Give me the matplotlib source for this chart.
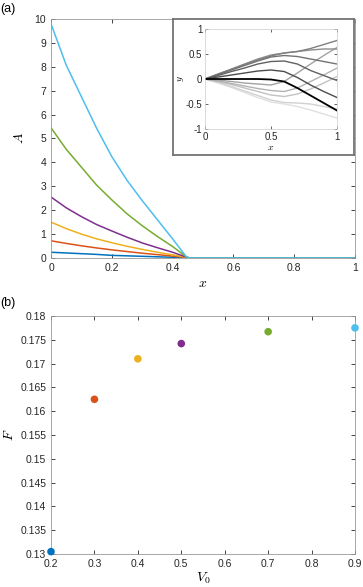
import matplotlib.pyplot as plt

plt.rcParams['font.family'] = ['Liberation Sans', 'DejaVu Sans']
plt.rcParams['mathtext.fontset'] = 'cm'

# panel (a): amplitude A(x) for each V0
x_a = [0, 0.05, 0.1, 0.15, 0.2, 0.25, 0.3, 0.35, 0.4, 0.445, 0.455, 1.0]
A_02 = [0.24, 0.21, 0.18, 0.15, 0.11, 0.09, 0.07, 0.05, 0.03, 0.01, 0, 0]
A_03 = [0.72, 0.61, 0.51, 0.42, 0.34, 0.27, 0.20, 0.14, 0.08, 0.02, 0, 0]
A_04 = [1.50, 1.23, 1.00, 0.80, 0.64, 0.49, 0.36, 0.24, 0.13, 0.03, 0, 0]
A_05 = [2.55, 2.10, 1.73, 1.40, 1.13, 0.87, 0.63, 0.43, 0.24, 0.04, 0, 0]
A_07 = [5.45, 4.55, 3.80, 3.05, 2.43, 1.85, 1.35, 0.90, 0.48, 0.05, 0, 0]
A_09 = [9.80, 8.07, 6.75, 5.43, 4.24, 3.25, 2.40, 1.60, 0.80, 0.05, 0, 0]

# inset: snapshots y(x)
x_in = [0, 0.1, 0.2, 0.3, 0.4, 0.5, 0.6, 0.7, 0.8, 0.9, 1.0]
snaps = [
    [0, -0.08, -0.17, -0.27, -0.37, -0.46, -0.50, -0.55, -0.62, -0.70, -0.78],
    [0, -0.07, -0.15, -0.24, -0.33, -0.42, -0.47, -0.48, -0.50, -0.55, -0.60],
    [0, -0.05, -0.11, -0.18, -0.25, -0.32, -0.35, -0.30, -0.20, -0.08, 0.05],
    [0, -0.04, -0.09, -0.14, -0.19, -0.23, -0.25, -0.18, -0.05, 0.08, 0.22],
    [0, -0.02, -0.05, -0.08, -0.10, -0.12, -0.05, 0.12, 0.30, 0.47, 0.63],
    [0, 0.10, 0.20, 0.30, 0.40, 0.48, 0.52, 0.55, 0.58, 0.60, 0.60],
    [0, 0.10, 0.19, 0.29, 0.38, 0.46, 0.52, 0.55, 0.61, 0.69, 0.77],
    [0, 0.09, 0.18, 0.27, 0.36, 0.44, 0.47, 0.45, 0.40, 0.35, 0.30],
    [0, 0.07, 0.15, 0.22, 0.30, 0.35, 0.36, 0.30, 0.17, 0.07, -0.03],
    [0, 0.04, 0.08, 0.12, 0.16, 0.18, 0.15, 0.03, -0.12, -0.25, -0.37],
    [0, 0, 0, 0, 0, -0.01, -0.05, -0.18, -0.33, -0.48, -0.63],
]
snap_grey = [0.88, 0.82, 0.76, 0.70, 0.64, 0.55, 0.50, 0.45, 0.38, 0.30, 0.0]

# panel (b): F vs V0
V0 = [0.2, 0.3, 0.4, 0.5, 0.7, 0.9]
F = [0.1305, 0.1625, 0.1710, 0.1742, 0.1767, 0.1775]
colors = ['#0072BD', '#D95319', '#EDB120', '#7E2F8E', '#77AC30', '#4DBEEE']

tick_kw = dict(direction='in', length=3, width=0.6, labelsize=7.5, colors='0.15',
               top=True, right=True)
spine_c = '0.6'

fig = plt.figure(figsize=(3.63, 5.87), dpi=100)

# ---- (a)
ax = fig.add_axes([0.1405, 0.5605, 0.8375, 0.4072])
for ys, c in zip([A_02, A_03, A_04, A_05, A_07, A_09], colors):
    ax.plot(x_a, ys, color=c, lw=1.1)
ax.set_xlim(0, 1)
ax.set_ylim(0, 10)
ax.set_xticks([0, 0.2, 0.4, 0.6, 0.8, 1])
ax.set_xticklabels(['0', '0.2', '0.4', '0.6', '0.8', '1'])
ax.set_yticks(range(0, 11))
ax.tick_params(**tick_kw)
for s in ax.spines.values():
    s.set_color(spine_c)
    s.set_linewidth(0.6)
ax.set_xlabel(r'$x$', fontsize=10, labelpad=2)
ax.set_ylabel(r'$A$', fontsize=10, labelpad=6)

# inset frame
box = fig.add_axes([0.4766, 0.7359, 0.4986, 0.2317])
box.set_xticks([])
box.set_yticks([])
for s in box.spines.values():
    s.set_color('0.45')
    s.set_linewidth(1.3)

ins = fig.add_axes([0.5647, 0.7802, 0.3636, 0.1704])
for ys, g in zip(snaps, snap_grey):
    ins.plot(x_in, ys, color=str(g), lw=1.0 if g > 0 else 1.3)
ins.set_xlim(0, 1)
ins.set_ylim(-1, 1)
ins.set_xticks([0, 0.5, 1])
ins.set_xticklabels(['0', '0.5', '1'])
ins.set_yticks([-1, -0.5, 0, 0.5, 1])
ins.set_yticklabels(['-1', '-0.5', '0', '0.5', '1'])
ins.tick_params(direction='in', length=2, width=0.5, labelsize=7, colors='0.15',
                top=True, right=True, pad=2)
for s in ins.spines.values():
    s.set_color('0.8')
    s.set_linewidth(0.5)
ins.set_xlabel(r'$x$', fontsize=7, labelpad=0)
ins.set_ylabel(r'$y$', fontsize=7, labelpad=0)

# ---- (b)
bx = fig.add_axes([0.1405, 0.0562, 0.8375, 0.4055])
bx.scatter(V0, F, s=30, c=colors, clip_on=False, zorder=3, linewidths=0)
bx.set_xlim(0.2, 0.9)
bx.set_ylim(0.13, 0.18)
bx.set_xticks([0.2, 0.3, 0.4, 0.5, 0.6, 0.7, 0.8, 0.9])
ft = [0.13, 0.135, 0.14, 0.145, 0.15, 0.155, 0.16, 0.165, 0.17, 0.175, 0.18]
bx.set_yticks(ft)
bx.set_yticklabels(['%g' % v for v in ft])
bx.tick_params(**tick_kw)
for s in bx.spines.values():
    s.set_color(spine_c)
    s.set_linewidth(0.6)
bx.set_xlabel(r'$V_0$', fontsize=10, labelpad=1)
bx.set_ylabel(r'$F$', fontsize=10, labelpad=3)

fig.text(0.002, 1 - 9 / 587, '(a)', fontsize=9, va='center', ha='left')
fig.text(0.002, 1 - 303 / 587, '(b)', fontsize=9, va='center', ha='left')

fig.savefig('out.png', dpi=100)
